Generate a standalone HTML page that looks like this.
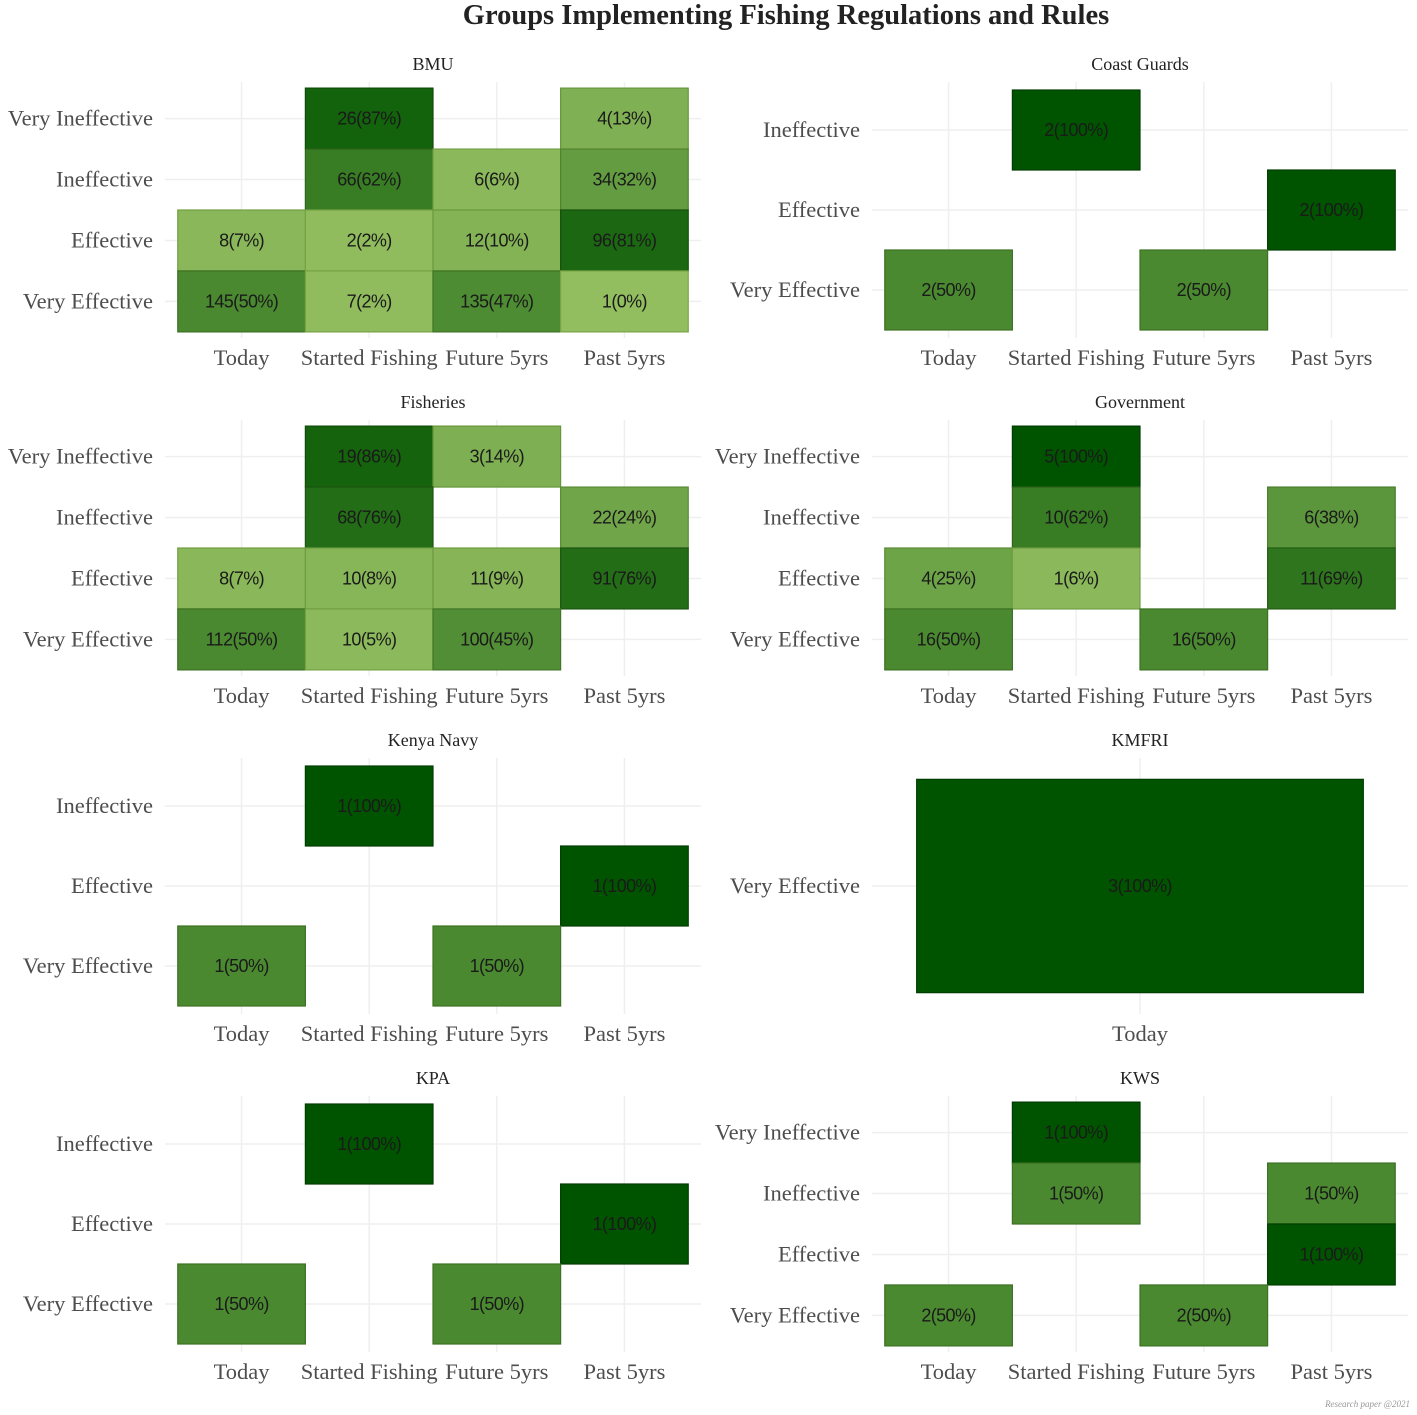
<!DOCTYPE html>
<html><head><meta charset="utf-8"><style>
html,body{margin:0;padding:0;background:#fff;}
svg{display:block;}
</style></head><body>
<svg id="chart" width="1417" height="1415" xmlns="http://www.w3.org/2000/svg">
<text x="786" y="24" text-anchor="middle" font-family="Liberation Serif, serif" font-weight="bold" font-size="28.5" fill="#222">Groups Implementing Fishing Regulations and Rules</text>
<text x="1410" y="1407" text-anchor="end" font-family="Liberation Serif, serif" font-style="italic" font-size="9" fill="#999">Research paper @2021</text>
</svg>
<script>
const columns = ["Today","Started Fishing","Future 5yrs","Past 5yrs"];
const panelNames = ["BMU","Coast Guards","Fisheries","Government","Kenya Navy","KMFRI","KPA","KWS"];
const panelRows = [
 ["Very Effective","Effective","Ineffective","Very Ineffective"],
 ["Very Effective","Effective","Ineffective"],
 ["Very Effective","Effective","Ineffective","Very Ineffective"],
 ["Very Effective","Effective","Ineffective","Very Ineffective"],
 ["Very Effective","Effective","Ineffective"],
 ["Very Effective"],
 ["Very Effective","Effective","Ineffective"],
 ["Very Effective","Effective","Ineffective","Very Ineffective"]
];
const panelCols = [
 [0,1,2,3],[0,1,2,3],[0,1,2,3],[0,1,2,3],[0,1,2,3],[0],[0,1,2,3],[0,1,2,3]
];
// cells: [column index, row label, count, percent]
const bmuCells = [[1,"Very Ineffective",26,87],[3,"Very Ineffective",4,13],[1,"Ineffective",66,62],[2,"Ineffective",6,6],[3,"Ineffective",34,32],[0,"Effective",8,7],[1,"Effective",2,2],[2,"Effective",12,10],[3,"Effective",96,81],[0,"Very Effective",145,50],[1,"Very Effective",7,2],[2,"Very Effective",135,47],[3,"Very Effective",1,0]];
const coastCells = [[1,"Ineffective",2,100],[3,"Effective",2,100],[0,"Very Effective",2,50],[2,"Very Effective",2,50]];
const fishCells = [[1,"Very Ineffective",19,86],[2,"Very Ineffective",3,14],[1,"Ineffective",68,76],[3,"Ineffective",22,24],[0,"Effective",8,7],[1,"Effective",10,8],[2,"Effective",11,9],[3,"Effective",91,76],[0,"Very Effective",112,50],[1,"Very Effective",10,5],[2,"Very Effective",100,45]];
const govCells = [[1,"Very Ineffective",5,100],[1,"Ineffective",10,62],[3,"Ineffective",6,38],[0,"Effective",4,25],[1,"Effective",1,6],[3,"Effective",11,69],[0,"Very Effective",16,50],[2,"Very Effective",16,50]];
const navyCells = [[1,"Ineffective",1,100],[3,"Effective",1,100],[0,"Very Effective",1,50],[2,"Very Effective",1,50]];
const kmfriCells = [[0,"Very Effective",3,100]];
const kpaCells = [[1,"Ineffective",1,100],[3,"Effective",1,100],[0,"Very Effective",1,50],[2,"Very Effective",1,50]];
const kwsCells = [[1,"Very Ineffective",1,100],[1,"Ineffective",1,50],[3,"Ineffective",1,50],[3,"Effective",1,100],[0,"Very Effective",2,50],[2,"Very Effective",2,50]];
const allCells = [bmuCells,coastCells,fishCells,govCells,navyCells,kmfriCells,kpaCells,kwsCells];

const NS="http://www.w3.org/2000/svg";
const svg=document.getElementById('chart');
function mk(tag,attrs){const e=document.createElementNS(NS,tag);for(const k in attrs)e.setAttribute(k,attrs[k]);return e;}
function color(p){const t=p/100;const a=[147,190,96],b=[0,84,0];
 return 'rgb('+a.map((v,i)=>Math.round(v+(b[i]-v)*t)).join(',')+')';}
function edge(p){const t=p/100;const a=[120,165,70],b=[0,60,0];
 return 'rgb('+a.map((v,i)=>Math.round(v+(b[i]-v)*t)).join(',')+')';}
const PW=536, PH=256;
panelNames.forEach((name,pi)=>{
 const gx = pi%2===0 ? 165 : 872;
 const gy = 82 + Math.floor(pi/2)*338;
 const g=mk('g',{});
 
 
 svg.appendChild(g);
 const cols=panelCols[pi], rows=panelRows[pi];
 const cw=PW/(cols.length+0.2), rh=PH/(rows.length+0.2);
 const xc=i=>gx+cw*(0.6+cols.indexOf(i));
 const yc=r=>gy+PH-rh*(0.6+rows.indexOf(r));
 const t=mk('text',{x:gx+PW/2,y:gy-12,'text-anchor':'middle','font-family':'Liberation Serif, serif','font-size':'18',fill:'#222'});
 t.textContent=name;
 
 
 g.appendChild(t);
 cols.forEach(c=>{
  const l=mk('line',{x1:xc(c),x2:xc(c),y1:gy,y2:gy+PH,stroke:'#efefef','stroke-width':'1.5'});
  
  
  g.appendChild(l);
  const tx=mk('text',{x:xc(c),y:gy+PH+27,'text-anchor':'middle','font-family':'Liberation Serif, serif','font-size':'22.5',fill:'#4d4d4d'});
  tx.textContent=columns[c];
  
  
  g.appendChild(tx);
 });
 rows.forEach(r=>{
  const l=mk('line',{x1:gx,x2:gx+PW,y1:yc(r),y2:yc(r),stroke:'#efefef','stroke-width':'1.5'});
  
  
  g.appendChild(l);
  const ty=mk('text',{x:gx-12,y:yc(r)+7,'text-anchor':'end','font-family':'Liberation Serif, serif','font-size':'22.5',fill:'#4d4d4d'});
  ty.textContent=r;
  
  
  g.appendChild(ty);
 });
 allCells[pi].forEach(([c,r,n,p])=>{
  const rc=mk('rect',{x:xc(c)-cw/2,y:yc(r)-rh/2,width:cw,height:rh,fill:color(p),stroke:edge(p),'stroke-width':'1.2'});
  
  
  g.appendChild(rc);
 });
 allCells[pi].forEach(([c,r,n,p])=>{
  const tl=mk('text',{x:xc(c),y:yc(r)+6,'text-anchor':'middle','font-family':'Liberation Sans, sans-serif','font-size':'18',fill:'#1a1a1a','letter-spacing':'-0.6'});
  tl.textContent=n+'('+p+'%)';
  
  
  g.appendChild(tl);
 });
});
</script>
</body></html>
